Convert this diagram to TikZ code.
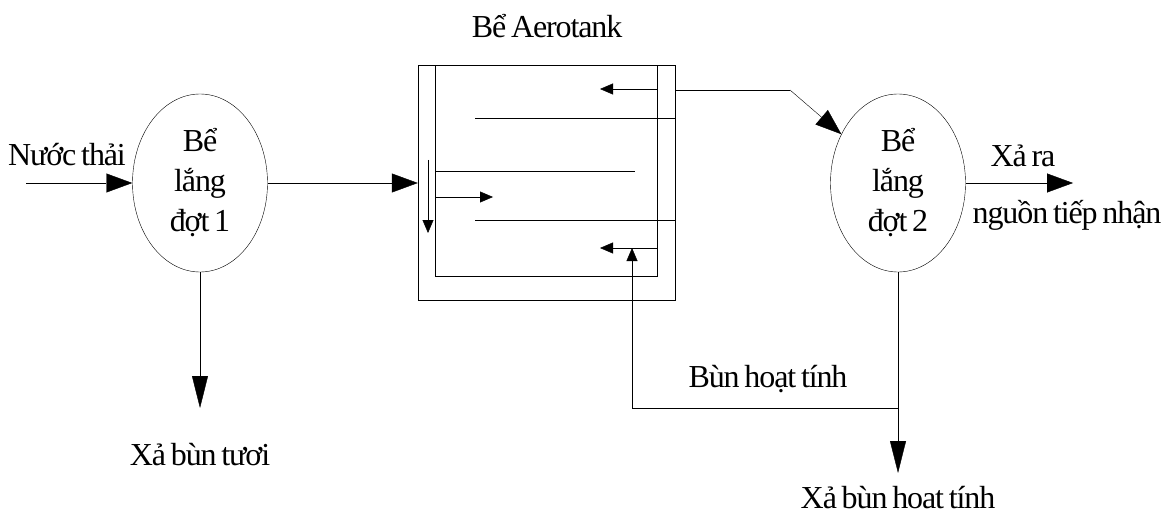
\documentclass[tikz,border=0pt]{standalone}
\usepackage{fontspec}
\setmainfont[LetterSpace=-3.5, WordSpace=0.7]{Liberation Serif}
\usetikzlibrary{shapes.geometric, arrows.meta, positioning}
\tikzset{
x=1pt, y=-1pt, % one unit per pixel, y grows downwards
line width=0.9pt, % thin lines everywhere
every node/.style={font=\fontsize{32}{40}\selectfont, inner sep=0pt},
settler/.style={ellipse, draw, minimum width=135pt, minimum height=178pt, align=center}, % settling tanks
wall/.style={draw, rectangle}, % aerotank walls
bigarrow/.style={-{Triangle[length=26pt,width=19pt]}}, % main flow
droparrow/.style={-{Triangle[length=32pt,width=16pt]}}, % sludge going out
smallarrow/.style={-{Triangle[length=13pt,width=11pt]}}, % flow inside the tank
}

\begin{document}
\begin{tikzpicture}
        \useasboundingbox (0,0) rectangle (1174,513);

        \node[settler] (s1) at (200,183) {Bể\\lắng\\đợt 1};
        \node[settler] (s2) at (898,183) {Bể\\lắng\\đợt 2};
        \node[wall, minimum width=257pt, minimum height=235pt] (tank) at (546.5,182.5) {};
        \node[wall, minimum width=222pt, minimum height=211pt] (chamber) at (546,170.5) {};

        % baffles and flow inside the aerotank
        \draw (475,118) -- (675,118);
        \draw (435,171) -- (635,171);
        \draw (475,220) -- (675,220);
        \draw[smallarrow] (657,89) -- (600,89);
        \draw[smallarrow] (657,248) -- (600,248);
        \draw[smallarrow] (435,197) -- (493,197);
        \draw[smallarrow] (428,160) -- (428,233);

        % labels
        \node[anchor=base] (title) at (547,38) {Bể Aerotank};
        \node[anchor=base] (inflow) at (67,166) {Nước thải};
        \node[anchor=base] (outflow) at (1023,167) {Xả ra};
        \node[anchor=base] (receiver) at (1067,223) {nguồn tiếp nhận};
        \node[anchor=base] (recycle) at (768,387) {Bùn hoạt tính};
        \node[anchor=base] (waste1) at (200,465) {Xả bùn tươi};
        \node[anchor=base] (waste2) at (898,508) {Xả bùn hoat tính};

        \coordinate (in) at (26,183);
        \coordinate (out) at (1073,183);
        \coordinate (bend) at (790,90);
        \coordinate (drop1) at (200,408);
        \coordinate (split) at (898,408);
        \coordinate (drop2) at (898,473);
        \coordinate (back) at (632,248);

        \draw[bigarrow] (in) -- (s1.west);
        \draw[bigarrow] (s1.east) -- (s1.east -| tank.west);
        \draw (tank.east |- bend) -- (bend);
        \draw[bigarrow] (bend) -- (s2);
        \draw[bigarrow] (s2.east) -- (out);
        \draw[droparrow] (s1.south) -- (drop1);
        \draw (s2.south) -- (split);
        \draw[droparrow] (split) -- (drop2);
        \draw[smallarrow] (split) -| (back);
      \end{tikzpicture}
\end{document}
